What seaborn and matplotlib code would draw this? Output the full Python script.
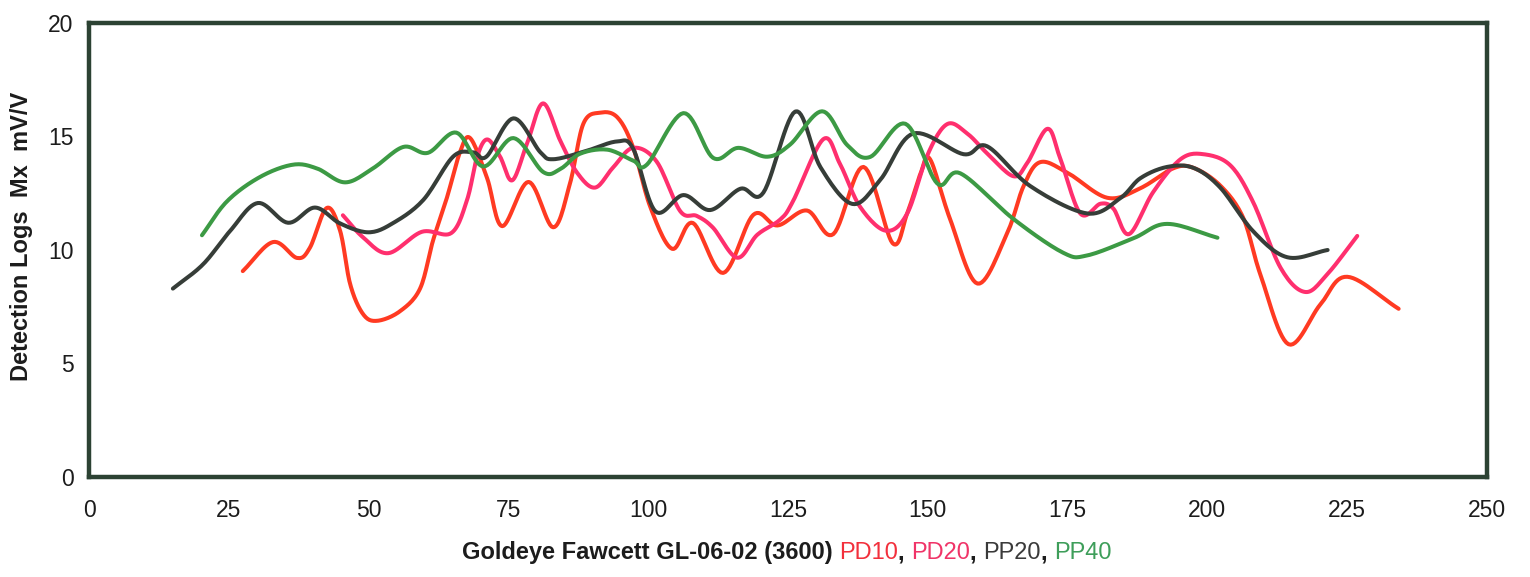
import numpy as np
import pandas as pd
import seaborn as sns
import matplotlib
matplotlib.use("Agg")
import matplotlib.pyplot as plt

# ---- log readings (depth position vs. detection value, mV/V) ----
pd10_x = [27.5, 32.9, 37.2, 39.5, 42.5, 44.9, 46.7, 49.0, 51.5, 55.6,
          59.2, 61.5, 64.0, 66.4, 68.2, 71.2, 73.9, 78.6, 83.0, 86.0,
          88.4, 91.4, 94.5, 97.3, 100.4, 104.3, 108.0, 113.4, 118.8, 123.1,
          128.4, 133.1, 138.5, 143.7, 146.3, 148.7, 150.4, 154.0, 158.9, 164.2,
          167.1, 170.1, 175.0, 182.1, 188.0, 193.9, 197.5, 202.3, 206.4, 209.5,
          214.5, 220.2, 225.0, 234.2]
pd10_y = [9.07, 10.35, 9.65, 10.1, 11.85, 10.85, 8.5, 7.18, 6.88, 7.3,
          8.3, 10.4, 12.3, 14.35, 14.92, 13.16, 11.05, 13.0, 11.0, 12.92,
          15.56, 16.05, 15.84, 14.52, 11.88, 10.05, 11.19, 8.99, 11.55, 11.08,
          11.74, 10.7, 13.66, 10.3, 11.6, 13.37, 14.0, 11.35, 8.52, 10.75,
          12.8, 13.87, 13.4, 12.3, 12.72, 13.6, 13.62, 12.84, 11.42, 8.9,
          5.85, 7.6, 8.82, 7.41]

pd20_x = [45.4, 49.0, 53.5, 59.5, 64.8, 67.6, 69.4, 71.2, 73.5, 75.7,
          78.4, 81.2, 84.3, 87.3, 90.5, 93.7, 97.3, 101.5, 105.7, 108.7,
          111.6, 115.9, 119.5, 123.6, 125.9, 131.3, 134.3, 137.9, 142.5, 146.3,
          150.0, 153.5, 157.1, 160.6, 165.3, 167.8, 171.4, 173.7, 177.3, 180.9,
          183.2, 186.0, 190.3, 195.2, 199.3, 204.1, 208.2, 213.1, 217.5, 221.5,
          226.8]
pd20_y = [11.53, 10.56, 9.86, 10.8, 10.75, 12.2, 14.1, 14.87, 14.12, 13.07,
          14.74, 16.46, 14.8, 13.4, 12.75, 13.63, 14.5, 13.9, 11.72, 11.5,
          10.98, 9.66, 10.67, 11.34, 12.15, 14.88, 13.79, 11.9, 10.85, 11.6,
          14.22, 15.55, 15.12, 14.26, 13.25, 13.84, 15.34, 14.02, 11.6, 12.04,
          11.82, 10.7, 12.55, 14.0, 14.22, 13.73, 12.1, 9.21, 8.15, 8.95,
          10.62]

pp20_x = [15.0, 20.4, 25.2, 30.2, 35.6, 40.4, 44.9, 50.0, 54.4, 59.8,
          65.1, 68.7, 71.1, 75.9, 80.7, 83.1, 89.0, 94.4, 97.3, 101.3,
          106.3, 111.1, 116.5, 120.6, 126.3, 130.8, 136.5, 141.5, 147.4, 156.4,
          160.6, 168.3, 178.5, 184.4, 188.0, 192.8, 197.5, 202.3, 208.2, 214.3,
          221.5]
pp20_y = [8.3, 9.37, 10.83, 12.07, 11.2, 11.87, 11.17, 10.78, 11.19, 12.21,
          14.11, 14.3, 14.12, 15.8, 14.31, 14.0, 14.37, 14.78, 14.47, 11.7,
          12.42, 11.76, 12.7, 12.53, 16.1, 13.65, 12.03, 13.09, 15.13, 14.22,
          14.57, 12.82, 11.61, 12.28, 13.16, 13.66, 13.62, 12.75, 10.82, 9.68,
          10.0]

pp40_x = [20.2, 24.7, 30.6, 36.5, 40.8, 45.8, 50.8, 56.2, 60.6, 65.7,
          70.5, 75.9, 81.2, 84.3, 87.8, 92.7, 97.3, 99.8, 106.3, 111.6,
          116.1, 121.3, 125.4, 131.1, 135.6, 139.7, 146.0, 151.7, 155.8, 165.3,
          174.2, 178.5, 186.8, 192.8, 201.8]
pp40_y = [10.65, 12.15, 13.22, 13.76, 13.59, 12.98, 13.6, 14.54, 14.28, 15.17,
          13.68, 14.93, 13.44, 13.57, 14.24, 14.42, 13.94, 13.77, 16.03, 14.06,
          14.5, 14.11, 14.65, 16.11, 14.62, 14.1, 15.56, 12.93, 13.38, 11.37,
          9.88, 9.76, 10.52, 11.15, 10.54]

series_names = ["PD10", "PD20", "PP20", "PP40"]
series_colors = {"PD10": "#ff3a22", "PD20": "#ff2f6e",
                 "PP20": "#363d38", "PP40": "#3c9a44"}
x_ticks = [0, 25, 50, 75, 100, 125, 150, 175, 200, 225, 250]
y_ticks = [0, 5, 10, 15, 20]
x_title = "Goldeye Fawcett GL-06-02 (3600) "
y_title = "Detection Logs  Mx  mV/V"


def smoothed(xs, ys, steps=14):
    """Catmull-Rom path through the readings (smoothed-line style)."""
    p = np.column_stack([xs, ys]).astype(float)
    p = np.vstack([p[0] - (p[1] - p[0]), p, p[-1] + (p[-1] - p[-2])])
    out = []
    t = np.linspace(0, 1, steps, endpoint=False)[:, None]
    for i in range(1, len(p) - 2):
        p0, p1, p2, p3 = p[i - 1], p[i], p[i + 1], p[i + 2]
        seg = 0.5 * ((2 * p1) + (-p0 + p2) * t
                     + (2 * p0 - 5 * p1 + 4 * p2 - p3) * t ** 2
                     + (-p0 + 3 * p1 - 3 * p2 + p3) * t ** 3)
        out.append(seg)
    out.append(p[-2][None, :])
    return np.vstack(out)


frames = []
for name, xs, ys in zip(series_names,
                        [pd10_x, pd20_x, pp20_x, pp40_x],
                        [pd10_y, pd20_y, pp20_y, pp40_y]):
    path = smoothed(xs, ys)
    frames.append(pd.DataFrame({"pos": path[:, 0], "val": path[:, 1],
                                "series": name}))
logs = pd.concat(frames, ignore_index=True)

sns.set_theme(style="white")
plt.rcParams["font.family"] = ["Liberation Sans", "DejaVu Sans"]

W, H = 1530, 577
fig = plt.figure(figsize=(W / 100, H / 100), dpi=100)
ax = fig.add_axes([89 / W, 1 - 477 / H, (1487 - 89) / W, (477 - 23) / H])

sns.lineplot(data=logs, x="pos", y="val", hue="series", units="series",
             estimator=None, sort=False, palette=series_colors,
             hue_order=series_names, linewidth=2.9, legend=False, ax=ax)

frame_color = "#2c4233"
for s in ax.spines.values():
    s.set_visible(True)
    s.set_color(frame_color)
    s.set_linewidth(3.2)

ax.set_xlim(0, 250)
ax.set_ylim(0, 20)
ax.set_xticks(x_ticks)
ax.set_yticks(y_ticks)
ax.tick_params(axis="both", direction="out", length=4, width=1,
               color=frame_color, labelsize=16.5, labelcolor="#1c1c1c")
ax.tick_params(axis="x", pad=12)
ax.tick_params(axis="y", pad=7)
ax.set_xlabel("")
ax.set_ylabel("")
ax.grid(False)

fig.text(22 / W, 1 - 236 / H, y_title, rotation=90, ha="center", va="center",
         fontsize=17, fontweight="bold", color="#1c1c1c")

# multi-coloured axis title, laid out piece by piece
pieces = [(x_title, "#1c1c1c", "bold"),
          ("PD10", "#f2303c", "normal"), (", ", "#1c1c1c", "bold"),
          ("PD20", "#f03468", "normal"), (", ", "#1c1c1c", "bold"),
          ("PP20", "#3a3a3a", "normal"), (", ", "#1c1c1c", "bold"),
          ("PP40", "#3e9e5a", "normal")]
fig.canvas.draw()
renderer = fig.canvas.get_renderer()
x_px = 462
for txt, col, wt in pieces:
    t = fig.text(x_px / W, 1 - 553 / H, txt, ha="left", va="center",
                 fontsize=17, fontweight=wt, color=col)
    x_px += t.get_window_extent(renderer).width

fig.savefig("out.png", dpi=100, facecolor="white")
